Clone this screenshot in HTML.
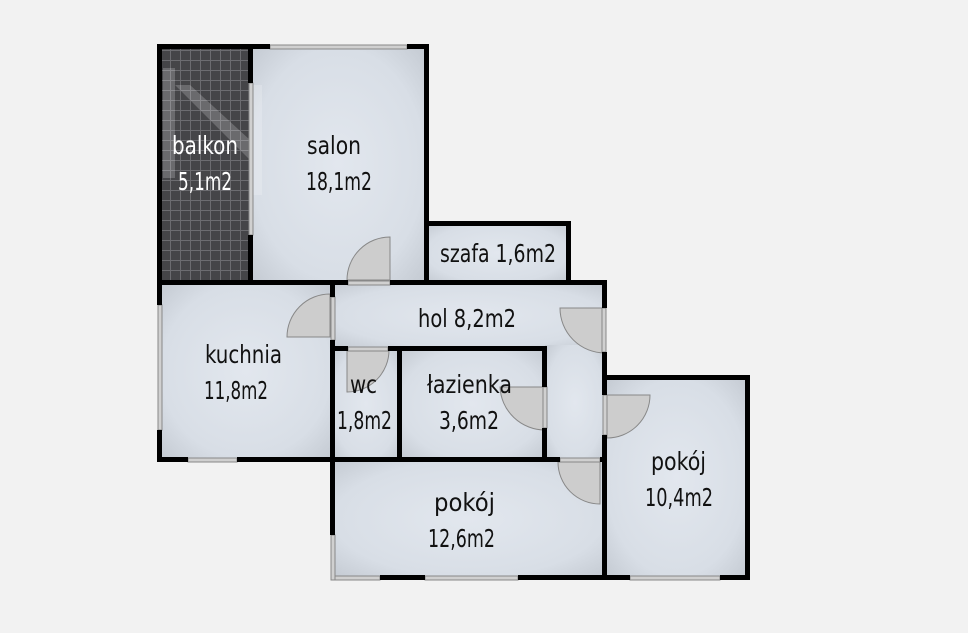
<!DOCTYPE html>
<html><head><meta charset="utf-8"><style>
html,body{margin:0;padding:0;background:#f2f2f2;}
svg{display:block;}
text{font-family:"DejaVu Sans Condensed","Liberation Sans",sans-serif;font-size:25px;fill:#111;}
</style></head><body>
<svg width="968" height="633" viewBox="0 0 968 633" xmlns="http://www.w3.org/2000/svg">
<defs>
<radialGradient id="rg" cx="50%" cy="50%" r="70%">
<stop offset="0" stop-color="#e2e7ee"/><stop offset="0.7" stop-color="#d8dee6"/><stop offset="1" stop-color="#c4cad2"/>
</radialGradient>
<pattern id="grid" width="10" height="10" patternUnits="userSpaceOnUse">
<rect width="10" height="10" fill="#454548"/>
<path d="M0 0.5H10M0.5 0V10" stroke="#6c6c70" stroke-width="1"/>
</pattern>
</defs>
<rect width="968" height="633" fill="#f2f2f2"/>
<rect x="160" y="46" width="90" height="236" fill="url(#grid)"/>
<rect x="250" y="46" width="176" height="236" fill="url(#rg)"/>
<rect x="426" y="223" width="142" height="60" fill="url(#rg)"/>
<rect x="160" y="283" width="172" height="176" fill="url(#rg)"/>
<rect x="332" y="283" width="273" height="65" fill="url(#rg)"/>
<rect x="545" y="345" width="60" height="115" fill="url(#rg)"/>
<rect x="332" y="348" width="68" height="112" fill="url(#rg)"/>
<rect x="400" y="348" width="145" height="112" fill="url(#rg)"/>
<rect x="332" y="460" width="273" height="118" fill="url(#rg)"/>
<rect x="605" y="378" width="143" height="200" fill="url(#rg)"/>
<g fill="#ffffff" opacity="0.2">
<rect x="163" y="68" width="12" height="110"/>
<polygon points="175,85 190,85 250,140 250,160"/>
<rect x="250" y="85" width="12" height="110"/>
</g>
<g fill="#cdcdcd" stroke="#888" stroke-width="1">
<path d="M347 280 A43 43 0 0 1 390 237 L390 280 Z"/>
<path d="M330 294 L330 337 L287 337 A43 43 0 0 1 330 294 Z"/>
<path d="M560 308 L605 308 L605 353 A45 45 0 0 1 560 308 Z"/>
<path d="M347 350 L389 350 A42 42 0 0 1 347 392 Z"/>
<path d="M500 387 L545 387 L545 430 A45 45 0 0 1 500 387 Z"/>
<path d="M558 462 L600 462 L600 504 A42 42 0 0 1 558 462 Z"/>
<path d="M607 395 L650 395 A43 43 0 0 1 607 438 Z"/>
</g>
<g fill="#d0d0d0" stroke="#888" stroke-width="1">
<rect x="270" y="45" width="137" height="4"/>
<rect x="249" y="83" width="4" height="152"/>
<rect x="158" y="305" width="4" height="125"/>
<rect x="188" y="458" width="49" height="4"/>
<rect x="331" y="535" width="4" height="45"/>
<rect x="335" y="576" width="45" height="4"/>
<rect x="425" y="576" width="93" height="4"/>
<rect x="630" y="576" width="90" height="4"/>
<rect x="348" y="281" width="42" height="4"/>
<rect x="331" y="297" width="4" height="43"/>
<rect x="602" y="308" width="4" height="44"/>
<rect x="348" y="347" width="40" height="4"/>
<rect x="543" y="387" width="4" height="41"/>
<rect x="560" y="458" width="40" height="4"/>
<rect x="603" y="395" width="4" height="40"/>
</g>
<g fill="#000">
<rect x="157" y="44" width="113" height="5"/>
<rect x="407" y="44" width="22" height="5"/>
<rect x="157" y="44" width="5" height="261"/>
<rect x="157" y="430" width="5" height="32"/>
<rect x="248" y="44" width="5" height="39"/>
<rect x="248" y="235" width="5" height="48"/>
<rect x="424" y="44" width="5" height="239"/>
<rect x="424" y="221" width="147" height="5"/>
<rect x="566" y="221" width="5" height="62"/>
<rect x="157" y="280" width="191" height="5"/>
<rect x="390" y="280" width="217" height="5"/>
<rect x="602" y="280" width="5" height="28"/>
<rect x="602" y="352" width="5" height="43"/>
<rect x="602" y="435" width="5" height="145"/>
<rect x="330" y="280" width="5" height="17"/>
<rect x="330" y="340" width="5" height="195"/>
<rect x="330" y="346" width="18" height="5"/>
<rect x="388" y="346" width="159" height="5"/>
<rect x="397" y="346" width="5" height="116"/>
<rect x="542" y="346" width="5" height="41"/>
<rect x="542" y="428" width="5" height="34"/>
<rect x="157" y="457" width="31" height="5"/>
<rect x="237" y="457" width="323" height="5"/>
<rect x="600" y="457" width="7" height="5"/>
<rect x="380" y="575" width="45" height="5"/>
<rect x="518" y="575" width="89" height="5"/>
<rect x="603" y="375" width="147" height="5"/>
<rect x="745" y="375" width="5" height="205"/>
<rect x="603" y="575" width="27" height="5"/>
<rect x="720" y="575" width="30" height="5"/>
</g>
<g lengthAdjust="spacingAndGlyphs">
<text x="172" y="154" textLength="66" lengthAdjust="spacingAndGlyphs" style="fill:#fff">balkon</text>
<text x="178" y="190" textLength="54" lengthAdjust="spacingAndGlyphs" style="fill:#fff">5,1m2</text>
<text x="307" y="154" textLength="54" lengthAdjust="spacingAndGlyphs">salon</text>
<text x="306" y="190" textLength="66" lengthAdjust="spacingAndGlyphs">18,1m2</text>
<text x="440" y="262" textLength="116" lengthAdjust="spacingAndGlyphs">szafa 1,6m2</text>
<text x="418" y="327" textLength="98" lengthAdjust="spacingAndGlyphs">hol 8,2m2</text>
<text x="205" y="363" textLength="77" lengthAdjust="spacingAndGlyphs">kuchnia</text>
<text x="204" y="399" textLength="64" lengthAdjust="spacingAndGlyphs">11,8m2</text>
<text x="350" y="393" textLength="27" lengthAdjust="spacingAndGlyphs">wc</text>
<text x="337" y="429" textLength="55" lengthAdjust="spacingAndGlyphs">1,8m2</text>
<text x="427" y="393" textLength="85" lengthAdjust="spacingAndGlyphs">łazienka</text>
<text x="439" y="429" textLength="60" lengthAdjust="spacingAndGlyphs">3,6m2</text>
<text x="434" y="511" textLength="61" lengthAdjust="spacingAndGlyphs">pokój</text>
<text x="428" y="547" textLength="67" lengthAdjust="spacingAndGlyphs">12,6m2</text>
<text x="651" y="470" textLength="55" lengthAdjust="spacingAndGlyphs">pokój</text>
<text x="645" y="506" textLength="68" lengthAdjust="spacingAndGlyphs">10,4m2</text>
</g>
</svg>
</body></html>
